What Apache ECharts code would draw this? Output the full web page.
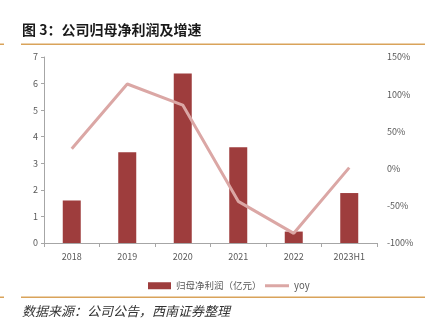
<!DOCTYPE html>
<html>
<head>
<meta charset="utf-8">
<style>
  html, body { margin: 0; padding: 0; background: #fff; }
  #chart { width: 433px; height: 331px; }
</style>
<script src="https://cdn.jsdelivr.net/npm/echarts@6/dist/echarts.min.js"></script>
</head>
<body>
<div id="chart"></div>
<script>
// Net profit attributable to parent (100 million CNY) and its YoY growth
const years = ['2018', '2019', '2020', '2021', '2022', '2023H1'];
const netProfit = [1.60, 3.42, 6.38, 3.60, 0.43, 1.88];
const yoyPct = [26.6, 113.7, 85.4, -44, -87, 1.3];

const titleText = '图 3：公司归母净利润及增速';
const sourceText = '数据来源：公司公告，西南证券整理';
const barName = '归母净利润（亿元）';
const lineName = 'yoy';

const axisGrey = '#a6a6a6';
const labelGrey = '#595959';
const ruleColor = '#d9a35a';
const barColor = '#9e3d3d';
const lineColor = '#dba7a5';

const chart = echarts.init(document.getElementById('chart'), null, { renderer: 'canvas' });

chart.setOption({
  backgroundColor: '#fff',
  animation: false,
  textStyle: { fontFamily: '"Noto Sans CJK SC", "Noto Sans", sans-serif' },
  grid: { left: 44, right: 56, top: 57, bottom: 88, containLabel: false },
  legend: [
    {
      left: 143,
      top: 276,
      itemWidth: 23,
      itemHeight: 7,
      itemGap: 4,
      textStyle: { color: labelGrey, fontSize: 9.5 },
      data: [{ name: barName, icon: 'rect' }]
    },
    {
      left: 260,
      top: 276,
      itemWidth: 24,
      itemHeight: 3,
      textStyle: { color: labelGrey, fontSize: 9.5 },
      data: [{ name: lineName, icon: 'rect', itemStyle: { color: lineColor } }]
    }
  ],
  xAxis: {
    type: 'category',
    data: years,
    axisLine: { lineStyle: { color: axisGrey, width: 1 } },
    axisTick: { show: true, alignWithLabel: false, length: 4, inside: false, lineStyle: { color: axisGrey } },
    axisLabel: { color: labelGrey, fontSize: 9, margin: 9 }
  },
  yAxis: [
    {
      type: 'value',
      min: 0,
      max: 7,
      interval: 1,
      axisLine: { show: true, lineStyle: { color: axisGrey } },
      axisTick: { show: true, length: 3, lineStyle: { color: axisGrey } },
      splitLine: { show: false },
      axisLabel: { color: labelGrey, fontSize: 9, margin: 6 }
    },
    {
      type: 'value',
      min: -100,
      max: 150,
      interval: 50,
      position: 'right',
      axisLine: { show: false },
      axisTick: { show: false },
      splitLine: { show: false },
      axisLabel: { color: labelGrey, fontSize: 9, margin: 10, formatter: '{value}%' }
    }
  ],
  series: [
    {
      name: barName,
      type: 'bar',
      data: netProfit,
      barWidth: 18,
      itemStyle: { color: barColor }
    },
    {
      name: lineName,
      type: 'line',
      yAxisIndex: 1,
      data: yoyPct,
      symbol: 'none',
      lineStyle: { color: lineColor, width: 3 },
      itemStyle: { color: lineColor }
    }
  ],
  graphic: [
    {
      type: 'text',
      left: 22,
      top: 23,
      style: {
        text: titleText,
        fill: '#1a1a1a',
        font: 'bold 14px "Noto Sans CJK SC", sans-serif'
      }
    },
    { type: 'rect', shape: { x: 0, y: 43.5, width: 4, height: 1.5 }, style: { fill: ruleColor } },
    { type: 'rect', shape: { x: 21, y: 43.5, width: 404, height: 1.5 }, style: { fill: ruleColor } },
    { type: 'rect', shape: { x: 0, y: 296.5, width: 4, height: 1.5 }, style: { fill: ruleColor } },
    { type: 'rect', shape: { x: 21, y: 296.5, width: 404, height: 1.5 }, style: { fill: ruleColor } },
    {
      type: 'text',
      left: 22,
      top: 305,
      style: {
        text: sourceText,
        fill: '#333',
        font: 'italic 13px "Noto Sans CJK SC", sans-serif'
      }
    }
  ]
});
</script>
</body>
</html>
